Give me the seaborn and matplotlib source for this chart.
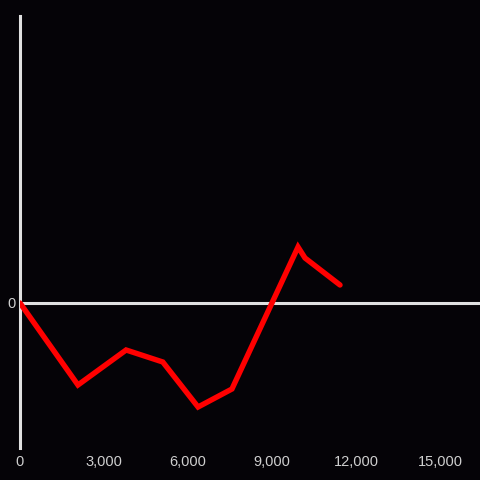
"""
Dark line chart with a single red series.
"""

import numpy as np
import pandas as pd
import matplotlib
matplotlib.use('Agg')
import matplotlib.pyplot as plt
import matplotlib.ticker as mticker
import seaborn as sns

# values
steps = [0, 2070, 3790, 5100, 6360, 7570, 9930, 10180, 11430]
values = [0, -82, -47, -59, -104, -86, 56, 45, 18]
x_ticks = [0, 3000, 6000, 9000, 12000, 15000]
y_ticks = [0]

BG = '#050307'
AXIS = '#e0e0e0'
TEXT = '#cfcfcf'

df = pd.DataFrame({'step': steps, 'value': values})

sns.set_style('dark')
plt.rcParams['font.family'] = ['Liberation Sans', 'DejaVu Sans']

fig = plt.figure(figsize=(4.8, 4.8), dpi=100, facecolor=BG)
ax = fig.add_axes([20 / 480, 32 / 480, 460 / 480, 432 / 480])
ax.set_facecolor(BG)

ax.axhline(0, color=AXIS, lw=2.2, zorder=1)
sns.lineplot(data=df, x='step', y='value', ax=ax, color='#ff0000', lw=3.9,
             solid_joinstyle='miter', zorder=3)

ax.set_xlim(0, 16430)
ax.set_ylim(-145, 287)
ax.set_xticks(x_ticks)
ax.set_yticks(y_ticks)
ax.xaxis.set_major_formatter(mticker.FuncFormatter(lambda v, _: f'{int(v):,}'))
ax.tick_params(axis='both', length=0, colors=TEXT, labelsize=10.5)
ax.tick_params(axis='x', pad=5)
ax.tick_params(axis='y', pad=3)
ax.set_xlabel('')
ax.set_ylabel('')
ax.grid(False)

for side in ['top', 'right', 'bottom']:
    ax.spines[side].set_visible(False)
ax.spines['left'].set_color(AXIS)
ax.spines['left'].set_linewidth(2.2)

fig.savefig('out.png', dpi=100, facecolor=BG)
